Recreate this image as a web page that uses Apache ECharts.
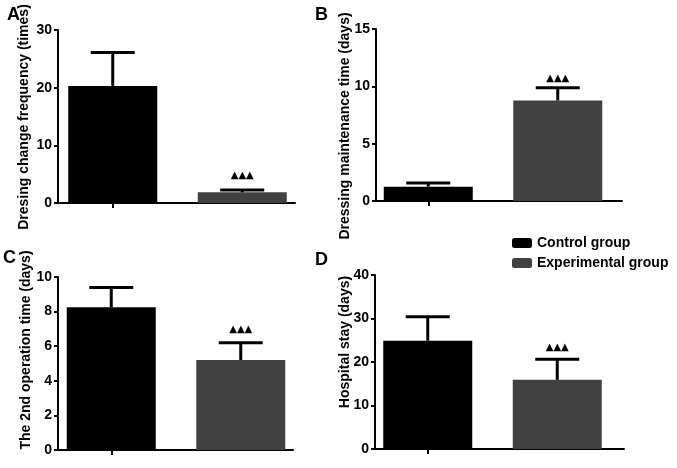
<!DOCTYPE html>
<html>
<head>
<meta charset="utf-8">
<script src="https://cdn.jsdelivr.net/npm/echarts@6/dist/echarts.min.js"></script>
<style>
html,body{margin:0;padding:0;background:#fff;}
#chart{width:677px;height:468px;}
</style>
</head>
<body>
<div id="chart"></div>
<script>
// ---- data ----
const categories = ['Control group', 'Experimental group'];
const seriesNames = ['Control group', 'Experimental group'];

const freqMean = [20.3, 1.85];
const freqErr = [5.8, 0.4];
const maintMean = [1.25, 8.77];
const maintErr = [0.32, 1.1];
const opMean = [8.25, 5.2];
const opErr = [1.15, 1.0];
const stayMean = [24.9, 15.9];
const stayErr = [5.5, 4.75];

const freqSig = ['', '\u25B2\u25B2\u25B2'];
const maintSig = ['', '\u25B2\u25B2\u25B2'];
const opSig = ['', '\u25B2\u25B2\u25B2'];
const staySig = ['', '\u25B2\u25B2\u25B2'];

const yTitles = ['Dresing change frequency (times)', 'Dressing maintenance time (days)', 'The 2nd operation time (days)', 'Hospital stay (days)'];
const yMax = [30, 15, 10, 40];
const yInterval = [10, 5, 2, 10];
const panelLetters = ['A', 'B', 'C', 'D'];

// ---- layout / style ----
const FONT = '"Liberation Sans", Arial, sans-serif';
const colors = ['#000000', '#414141'];
const panels = [
  {mean: freqMean, err: freqErr, sig: freqSig, frame: {left: 58, top: 30, width: 237, height: 173}, barLeft: 48, sigOff: 15,
   title: {x: 24, y: 117}, letter: {x: 7, y: 15.5}},
  {mean: maintMean, err: maintErr, sig: maintSig, frame: {left: 376, top: 29, width: 246, height: 172}, barLeft: 363.5, sigOff: 9,
   title: {x: 345, y: 126}, letter: {x: 315, y: 15.5}},
  {mean: opMean, err: opErr, sig: opSig, frame: {left: 58, top: 277, width: 235, height: 173}, barLeft: 46.5, sigOff: 13,
   title: {x: 26, y: 350}, letter: {x: 3, y: 258}},
  {mean: stayMean, err: stayErr, sig: staySig, frame: {left: 375, top: 275, width: 249, height: 174}, barLeft: 363, sigOff: 12,
   title: {x: 345, y: 342}, letter: {x: 315, y: 260}}
];

const grid = [], xAxis = [], yAxis = [], series = [], graphic = [];

panels.forEach((p, i) => {
  const fIdx = grid.length;
  grid.push({left: p.frame.left, top: p.frame.top, width: p.frame.width, height: p.frame.height, containLabel: false});
  const bIdx = grid.length;
  grid.push({left: p.barLeft, top: p.frame.top, width: 259, height: p.frame.height, containLabel: false});

  // frame axes
  xAxis.push({gridIndex: fIdx, type: 'value', min: 0, max: 1,
    axisLine: {show: true, lineStyle: {color: '#000', width: 2}},
    axisTick: {show: false}, axisLabel: {show: false}, splitLine: {show: false}});
  yAxis.push({gridIndex: fIdx, type: 'value', min: 0, max: yMax[i], interval: yInterval[i],
    axisLine: {show: true, lineStyle: {color: '#000', width: 2}},
    axisTick: {show: true, length: 4, lineStyle: {color: '#000', width: 2}},
    axisLabel: {show: true, margin: 6, color: '#000', fontSize: 14, fontWeight: 'bold', fontFamily: FONT},
    splitLine: {show: false}});
  // bar axes
  xAxis.push({gridIndex: bIdx, type: 'category', data: categories,
    axisLine: {show: false},
    axisTick: {show: true, alignWithLabel: true, inside: false, length: 5, lineStyle: {color: '#000', width: 2}},
    axisLabel: {show: false}, splitLine: {show: false}});
  yAxis.push({gridIndex: bIdx, type: 'value', min: 0, max: yMax[i], show: false});

  const xi = xAxis.length - 1, yi = yAxis.length - 1;
  seriesNames.forEach((nm, k) => {
    series.push({
      type: 'bar', name: nm, xAxisIndex: xi, yAxisIndex: yi,
      barWidth: 89, barGap: '-100%',
      itemStyle: {color: colors[k]},
      data: categories.map((c, j) => j === k ? p.mean[j] : '-'),
      silent: true, animation: false
    });
  });
  const sig = p.sig, off = p.sigOff;
  series.push({
    type: 'custom', xAxisIndex: xi, yAxisIndex: yi, silent: true, animation: false, z: 5,
    data: categories.map((c, j) => [j, p.mean[j], p.err[j]]),
    encode: {x: 0, y: 1},
    renderItem: function (params, api) {
      const j = api.value(0), m = api.value(1), e = api.value(2);
      const b = api.coord([j, m]);
      const t = api.coord([j, m + e]);
      const half = 22;
      const children = [
        {type: 'line', shape: {x1: b[0], y1: b[1], x2: t[0], y2: t[1]}, style: {stroke: '#000', lineWidth: 3}},
        {type: 'line', shape: {x1: t[0] - half, y1: t[1], x2: t[0] + half, y2: t[1]}, style: {stroke: '#000', lineWidth: 3}}
      ];
      if (sig[params.dataIndex]) {
        children.push({type: 'text', x: t[0], y: t[1] - off,
          style: {text: sig[params.dataIndex], fill: '#000', fontSize: 10, fontFamily: '"DejaVu Sans", sans-serif',
            align: 'center', verticalAlign: 'middle'}});
      }
      return {type: 'group', children: children};
    }
  });

  graphic.push({type: 'text', x: p.title.x, y: p.title.y, rotation: Math.PI / 2,
    style: {text: yTitles[i], fill: '#000', fontSize: 14, fontWeight: 'bold', fontFamily: FONT,
      align: 'center', verticalAlign: 'middle'}});
  graphic.push({type: 'text', x: p.letter.x, y: p.letter.y,
    style: {text: panelLetters[i], fill: '#000', fontSize: 18, fontWeight: 'bold', fontFamily: FONT,
      align: 'left', verticalAlign: 'middle'}});
});

const chart = echarts.init(document.getElementById('chart'), null, {renderer: 'canvas'});
chart.setOption({
  animation: false,
  backgroundColor: '#fff',
  grid: grid, xAxis: xAxis, yAxis: yAxis, series: series, graphic: graphic,
  legend: {
    data: seriesNames, orient: 'vertical', left: 512, top: 236, padding: 0,
    itemWidth: 20, itemHeight: 10, itemGap: 6, icon: 'roundRect',
    selectedMode: false,
    textStyle: {color: '#000', fontSize: 14, fontWeight: 'bold', fontFamily: FONT, lineHeight: 14}
  }
});
</script>
</body>
</html>
